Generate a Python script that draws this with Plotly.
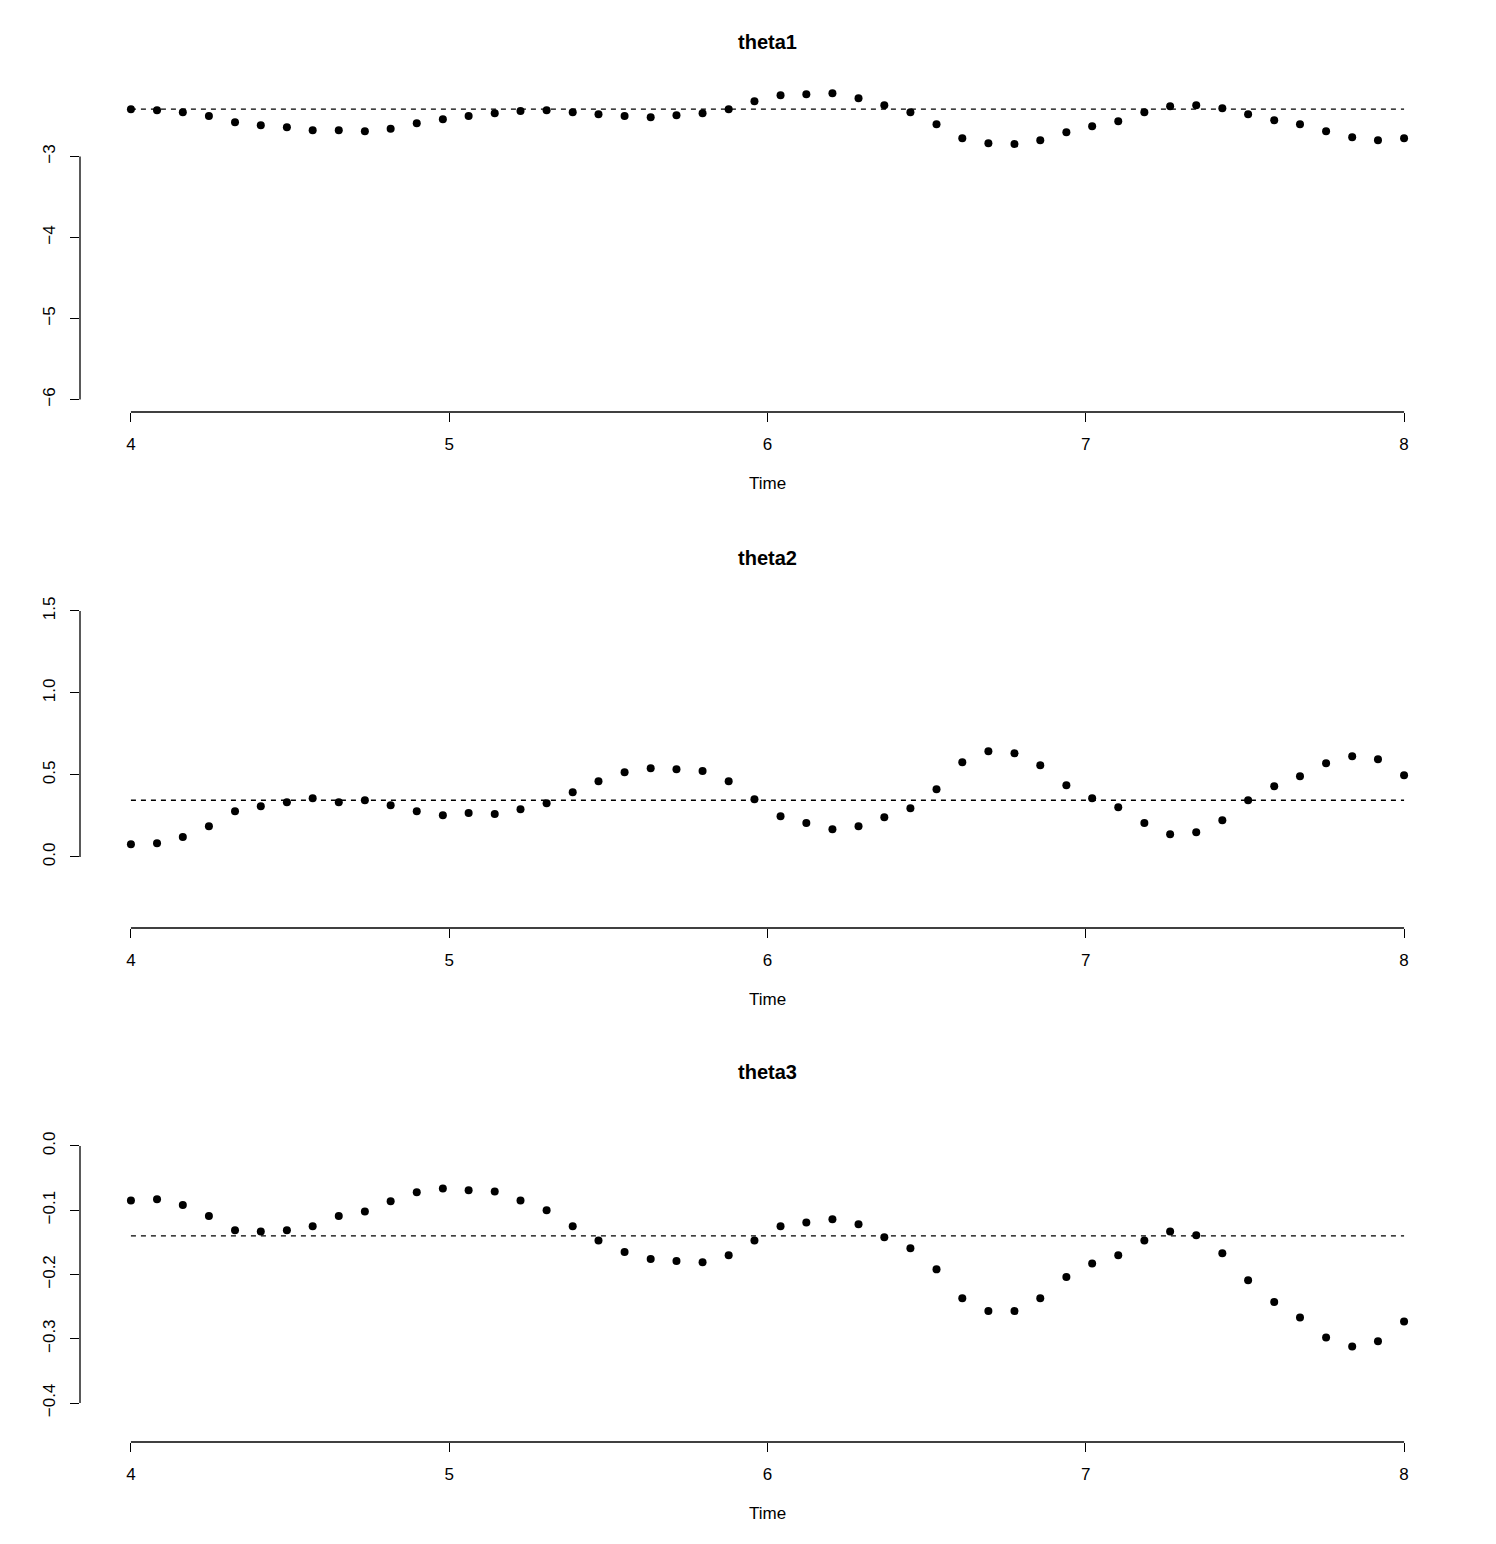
import plotly.graph_objects as go

# ---------------- data ----------------
time = [4.000, 4.082, 4.163, 4.245, 4.327, 4.408, 4.490, 4.571, 4.653, 4.735,
        4.816, 4.898, 4.980, 5.061, 5.143, 5.224, 5.306, 5.388, 5.469, 5.551,
        5.633, 5.714, 5.796, 5.878, 5.959, 6.041, 6.122, 6.204, 6.286, 6.367,
        6.449, 6.531, 6.612, 6.694, 6.776, 6.857, 6.939, 7.020, 7.102, 7.184,
        7.265, 7.347, 7.429, 7.510, 7.592, 7.673, 7.755, 7.837, 7.918, 8.000]

theta1 = [-2.417, -2.430, -2.454, -2.500, -2.578, -2.615, -2.640, -2.677, -2.677, -2.689,
          -2.657, -2.590, -2.541, -2.500, -2.467, -2.438, -2.430, -2.454, -2.479, -2.500,
          -2.516, -2.491, -2.467, -2.417, -2.319, -2.244, -2.232, -2.220, -2.281, -2.368,
          -2.454, -2.602, -2.775, -2.837, -2.846, -2.800, -2.701, -2.627, -2.565, -2.454,
          -2.380, -2.368, -2.405, -2.479, -2.553, -2.602, -2.689, -2.763, -2.800, -2.775]

theta2 = [0.077, 0.084, 0.122, 0.187, 0.279, 0.309, 0.334, 0.358, 0.334, 0.346,
          0.315, 0.279, 0.254, 0.268, 0.262, 0.291, 0.327, 0.395, 0.462, 0.516,
          0.541, 0.535, 0.524, 0.462, 0.352, 0.248, 0.207, 0.169, 0.187, 0.242,
          0.297, 0.413, 0.577, 0.645, 0.632, 0.559, 0.437, 0.358, 0.303, 0.207,
          0.138, 0.151, 0.224, 0.346, 0.431, 0.492, 0.571, 0.614, 0.596, 0.498]

theta3 = [-0.085, -0.083, -0.092, -0.109, -0.131, -0.133, -0.131, -0.125, -0.109, -0.102,
          -0.086, -0.072, -0.066, -0.069, -0.071, -0.085, -0.100, -0.125, -0.147, -0.165,
          -0.176, -0.179, -0.181, -0.170, -0.147, -0.125, -0.119, -0.114, -0.122, -0.142,
          -0.159, -0.192, -0.237, -0.257, -0.257, -0.237, -0.204, -0.183, -0.170, -0.147,
          -0.133, -0.139, -0.167, -0.209, -0.243, -0.267, -0.298, -0.312, -0.304, -0.273]

ref_levels = [-2.415, 0.346, -0.140]
titles = ["theta1", "theta2", "theta3"]
x_ticks = [4, 5, 6, 7, 8]
x_ticktext = ["4", "5", "6", "7", "8"]
y_ticks = [[-6, -5, -4, -3], [0.0, 0.5, 1.0, 1.5], [-0.4, -0.3, -0.2, -0.1, 0.0]]
y_ticktext = [["\u22126", "\u22125", "\u22124", "\u22123"],
              ["0.0", "0.5", "1.0", "1.5"],
              ["\u22120.4", "\u22120.3", "\u22120.2", "\u22120.1", "0.0"]]
x_label = "Time"

# ---------------- layout (pixels) ----------------
W, H = 1496, 1544
PLOT_L, PLOT_R = 80, 1455
panel_px = [(62, 412), (578, 928), (1092, 1442)]   # top, bottom
x_range = [3.84, 8.16]
y_ranges = [[-6.154, -1.833], [-0.433, 1.701], [-0.4607, 0.084]]

FONT = "Liberation Sans, Arial, Helvetica, sans-serif"
series = [theta1, theta2, theta3]

fig = go.Figure()
shapes = []
annotations = []
layout = dict(
    width=W, height=H,
    margin=dict(l=0, r=0, t=0, b=0),
    paper_bgcolor="white", plot_bgcolor="white",
    showlegend=False,
    font=dict(family=FONT, size=17, color="black"),
)

for i in range(3):
    n = "" if i == 0 else str(i + 1)
    xa, ya = "x" + n, "y" + n
    top, bot = panel_px[i]
    fig.add_trace(go.Scatter(
        x=time, y=series[i], mode="markers", xaxis=xa, yaxis=ya,
        marker=dict(color="black", size=8, line=dict(width=0)),
        cliponaxis=False,
    ))
    fig.add_trace(go.Scatter(
        x=[time[0], time[-1]], y=[ref_levels[i], ref_levels[i]], mode="lines",
        xaxis=xa, yaxis=ya,
        line=dict(color="black", width=1.3, dash="5px,5px"),
    ))
    layout["xaxis" + n] = dict(
        domain=[PLOT_L / W, PLOT_R / W], anchor=ya, range=x_range,
        showgrid=False, zeroline=False, showline=False,
        ticks="outside", ticklen=9, tickwidth=1.3, tickcolor="black",
        tickvals=x_ticks, ticktext=x_ticktext, ticklabelstandoff=8,
        tickfont=dict(family=FONT, size=17, color="black"),
    )
    layout["yaxis" + n] = dict(
        domain=[1 - bot / H, 1 - top / H], anchor=xa, range=y_ranges[i],
        showgrid=False, zeroline=False, showline=False,
        ticks="outside", ticklen=9, tickwidth=1.3, tickcolor="black",
        tickvals=y_ticks[i], ticktext=y_ticktext[i], tickangle=-90,
        ticklabelstandoff=8,
        tickfont=dict(family=FONT, size=17, color="black"),
    )
    # R-style axis lines spanning only first..last tick
    shapes.append(dict(type="line", xref=xa, yref=ya + " domain",
                       x0=x_ticks[0], x1=x_ticks[-1], y0=0, y1=0,
                       line=dict(color="black", width=1.3)))
    shapes.append(dict(type="line", xref=xa + " domain", yref=ya,
                       x0=0, x1=0, y0=y_ticks[i][0], y1=y_ticks[i][-1],
                       line=dict(color="black", width=1.3)))
    annotations.append(dict(text="<b>" + titles[i] + "</b>", xref=xa + " domain",
                            yref=ya + " domain", x=0.5, y=1, yshift=20,
                            xanchor="center", yanchor="middle", showarrow=False,
                            font=dict(family=FONT, size=20, color="black")))
    annotations.append(dict(text=x_label, xref=xa + " domain",
                            yref=ya + " domain", x=0.5, y=0, yshift=-71,
                            xanchor="center", yanchor="middle", showarrow=False,
                            font=dict(family=FONT, size=17, color="black")))

layout["shapes"] = shapes
layout["annotations"] = annotations
fig.update_layout(**layout)
fig.write_html("out.html")
